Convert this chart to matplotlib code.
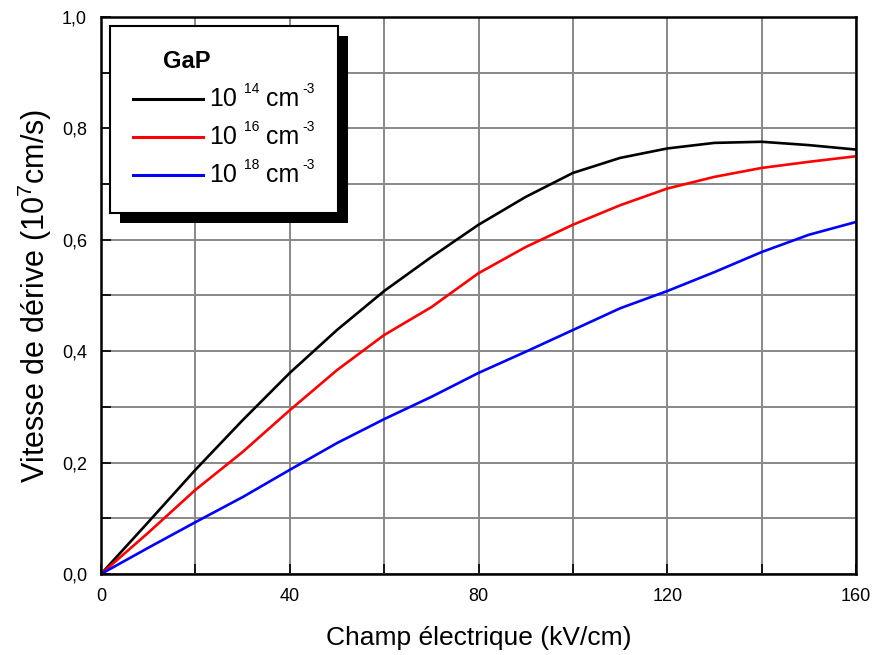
import matplotlib
matplotlib.use('Agg')
import matplotlib.pyplot as plt
from matplotlib.patches import Rectangle
from matplotlib.lines import Line2D
from matplotlib.ticker import MultipleLocator, FuncFormatter

plt.rcParams['font.family'] = ['Liberation Sans', 'DejaVu Sans']
plt.rcParams['mathtext.default'] = 'regular'

# vitesse de dérive vs champ, GaP à trois dopages
champ = [0, 10, 20, 30, 40, 50, 60, 70, 80, 90, 100, 110, 120, 130, 140, 150, 160]
v_1e14 = [0, 0.093, 0.187, 0.276, 0.361, 0.438, 0.508, 0.569, 0.627, 0.677,
          0.720, 0.747, 0.764, 0.774, 0.776, 0.770, 0.762]
v_1e16 = [0, 0.074, 0.151, 0.219, 0.294, 0.366, 0.429, 0.479, 0.540, 0.587,
          0.627, 0.662, 0.692, 0.713, 0.729, 0.740, 0.750]
v_1e18 = [0, 0.047, 0.093, 0.138, 0.187, 0.235, 0.278, 0.318, 0.361, 0.399,
          0.438, 0.477, 0.508, 0.542, 0.578, 0.609, 0.632]
dopages = ['14', '16', '18']
couleurs = ['black', '#ff0000', '#0000ff']

W, H = 872, 655
fig = plt.figure(figsize=(W / 100, H / 100), dpi=100)
ax = fig.add_axes([101 / W, 1 - 574 / H, 755 / W, 557 / H])

for v, c in zip([v_1e14, v_1e16, v_1e18], couleurs):
    ax.plot(champ, v, color=c, lw=1.9, zorder=3)

ax.set_xlim(0, 160)
ax.set_ylim(0, 1.0)
ax.xaxis.set_major_locator(MultipleLocator(40))
ax.xaxis.set_minor_locator(MultipleLocator(20))
ax.yaxis.set_major_locator(MultipleLocator(0.2))
ax.yaxis.set_minor_locator(MultipleLocator(0.1))
ax.yaxis.set_major_formatter(FuncFormatter(lambda y, p: f'{y:.1f}'.replace('.', ',')))
ax.xaxis.set_major_formatter(FuncFormatter(lambda x, p: f'{x:.0f}'))

ax.grid(True, which='both', color='#888888', lw=1.4, zorder=1)
ax.set_axisbelow(True)
ax.tick_params(which='both', direction='in', length=7, width=1.2, color='black')
ax.tick_params(which='major', labelsize=13, pad=10)
for s in ax.spines.values():
    s.set_linewidth(1.8)
    s.set_zorder(4)

ax.set_xlabel('Champ électrique (kV/cm)', fontsize=19, labelpad=15)
ax.set_ylabel('Vitesse de dérive (10$^{7}$cm/s)', fontsize=22, labelpad=6)


# legend box with hard shadow, placed in pixel units
def fx(px):
    return px / W


def fy(py):
    return 1 - py / H


x0, y0, x1, y1 = 110, 26, 338, 213
sh = 10
fig.add_artist(Rectangle((fx(x0 + sh), fy(y1 + sh)), fx(x1 - x0), (y1 - y0) / H,
                         transform=fig.transFigure, facecolor='black',
                         edgecolor='none', zorder=5))
fig.add_artist(Rectangle((fx(x0), fy(y1)), fx(x1 - x0), (y1 - y0) / H,
                         transform=fig.transFigure, facecolor='white',
                         edgecolor='black', lw=1.5, zorder=6))
fig.text(fx(163), fy(62), 'GaP', fontsize=17, fontweight='bold',
         ha='left', va='center', zorder=7)
for i, (d, c) in enumerate(zip(dopages, couleurs)):
    yy = 99 + 38 * i
    fig.add_artist(Line2D([fx(133), fx(203)], [fy(yy), fy(yy)], color=c, lw=2.2,
                          transform=fig.transFigure, zorder=7))
    fig.text(fx(209), fy(yy + 7), '10', fontsize=18, ha='left', va='baseline', zorder=7)
    fig.text(fx(244), fy(yy - 6), d, fontsize=10, ha='left', va='baseline', zorder=7)
    fig.text(fx(266), fy(yy + 7), 'cm', fontsize=18, ha='left', va='baseline', zorder=7)
    fig.text(fx(302), fy(yy - 6), '-3', fontsize=10, ha='left', va='baseline', zorder=7)

fig.savefig('out.png', dpi=100)
